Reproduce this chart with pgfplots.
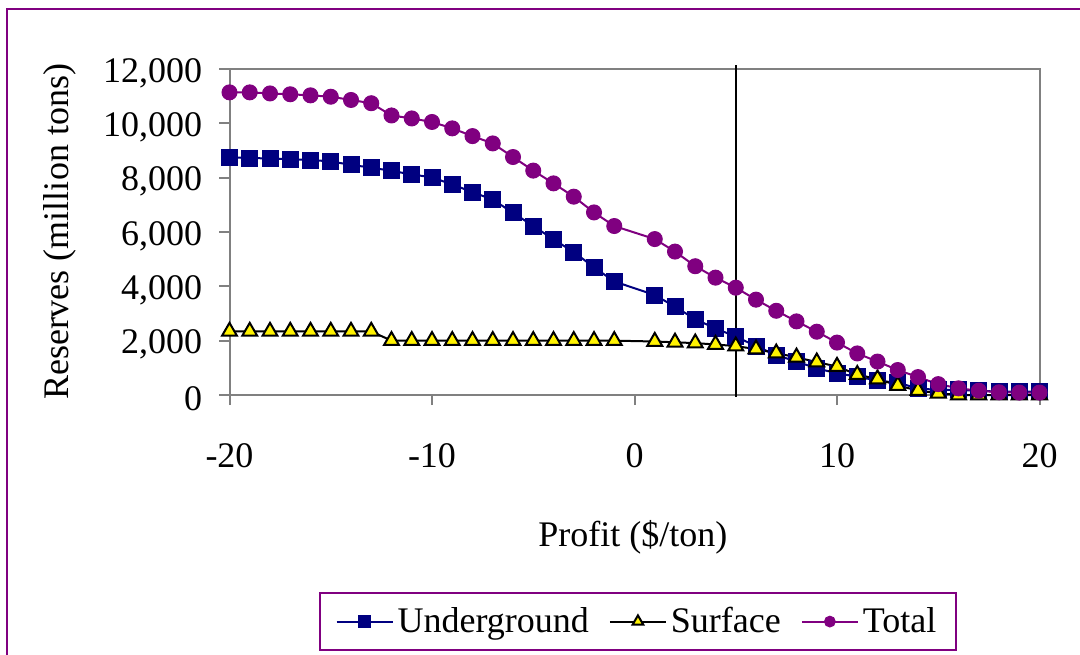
\documentclass[border=0pt]{standalone}
\usepackage{fontspec}
\setmainfont{Liberation Serif}
\usepackage{pgfplots}
\pgfplotsset{compat=1.18}
\definecolor{ugblue}{HTML}{000080}
\definecolor{totpurple}{HTML}{800080}
\definecolor{axgray}{HTML}{808080}
\begin{document}
\begin{tikzpicture}[font=\fontsize{18}{22}\selectfont]
\useasboundingbox (0,0) rectangle (540pt,327pt);
\clip (0,0) rectangle (540pt,327pt);
\fill[white] (0,0) rectangle (540pt,327pt);
\draw[totpurple, line width=1pt] (3.5pt,-5pt) rectangle (545pt,322.5pt);
\begin{axis}[
  at={(114.75pt,129.5pt)}, anchor=south west,
  scale only axis, width=405pt, height=163pt,
  xmin=-20, xmax=20, ymin=0, ymax=12000,
  xtick={-20,-10,0,10,20},
  ytick={0,2000,4000,6000,8000,10000,12000},
  scaled y ticks=false,
  /pgf/number format/assume math mode=true,
  /pgf/number format/1000 sep={,},
  axis line style={axgray, line width=1pt},
  tick style={axgray, line width=1pt},
  tick align=outside, major tick length=5pt,
  xtick pos=lower, ytick pos=left,
  xticklabel style={anchor=center, yshift=-25.5pt},
  yticklabel style={anchor=east, inner sep=0pt, xshift=-8.5pt, yshift=-2pt},
  xlabel={Profit (\$/ton)},
  ylabel={Reserves (million tons)},
  xlabel style={at={(axis description cs:0.498,-0.4356)}, anchor=center},
  ylabel style={at={(axis description cs:-0.2093,0.5)}, anchor=center},
  clip=false,
  legend columns=3,
  legend style={at={(axis description cs:0.5043,-0.695)}, anchor=center,
    draw=totpurple, line width=1pt, inner xsep=8pt, inner ysep=5pt,
    /tikz/every even column/.append style={column sep=8pt}},
  legend cell align=left,
  legend image code/.code={
    \draw[mark repeat=2,mark phase=2,#1,/tikz/every mark/.append style={scale=0.72}] plot coordinates {(0pt,0pt) (14pt,0pt) (28pt,0pt)};
  },
]
\addplot[ugblue, line width=1pt, mark=square*, mark size=4pt, mark options={fill=ugblue, draw=ugblue, line width=0.5pt}] coordinates {
(-20,8750) (-19,8720) (-18,8710) (-17,8680) (-16,8650) (-15,8600) (-14,8470) (-13,8370) (-12,8250) (-11,8120)
(-10,8010) (-9,7750) (-8,7470) (-7,7190) (-6,6710) (-5,6220) (-4,5730) (-3,5260) (-2,4700) (-1,4180)
(1,3680) (2,3250) (3,2790) (4,2450) (5,2150) (6,1800) (7,1470) (8,1230) (9,980) (10,800)
(11,675) (12,530) (13,450) (14,245) (15,185) (16,185) (17,160) (18,120) (19,120) (20,120)};
\addlegendentry{Underground}
\addplot[black, line width=1pt, mark=triangle*, mark size=4.3pt, mark options={fill=yellow, draw=black, line width=1pt}] coordinates {
(-20,2340) (-19,2340) (-18,2340) (-17,2340) (-16,2340) (-15,2340) (-14,2340) (-13,2340) (-12,2000) (-11,2000)
(-10,2000) (-9,2000) (-8,2000) (-7,2000) (-6,2000) (-5,2000) (-4,2000) (-3,2000) (-2,2000) (-1,2000)
(1,1970) (2,1940) (3,1910) (4,1860) (5,1800) (6,1690) (7,1540) (8,1390) (9,1210) (10,1050)
(11,750) (12,590) (13,350) (14,165) (15,65) (16,0) (17,0) (18,0) (19,0) (20,0)};
\addlegendentry{Surface}
\addplot[totpurple, line width=1pt, mark=*, mark size=3.75pt, mark options={fill=totpurple, draw=totpurple, line width=0.5pt}] coordinates {
(-20,11140) (-19,11140) (-18,11100) (-17,11070) (-16,11030) (-15,10980) (-14,10860) (-13,10740) (-12,10290) (-11,10180)
(-10,10050) (-9,9815) (-8,9530) (-7,9260) (-6,8760) (-5,8260) (-4,7790) (-3,7300) (-2,6720) (-1,6220)
(1,5740) (2,5280) (3,4740) (4,4320) (5,3950) (6,3510) (7,3100) (8,2710) (9,2330) (10,1930)
(11,1530) (12,1230) (13,920) (14,660) (15,400) (16,245) (17,160) (18,100) (19,90) (20,90)};
\addlegendentry{Total}
\addplot[black, line width=0.75pt, forget plot] coordinates {(5,-60) (5,12150)};
\end{axis}
\end{tikzpicture}
\end{document}
